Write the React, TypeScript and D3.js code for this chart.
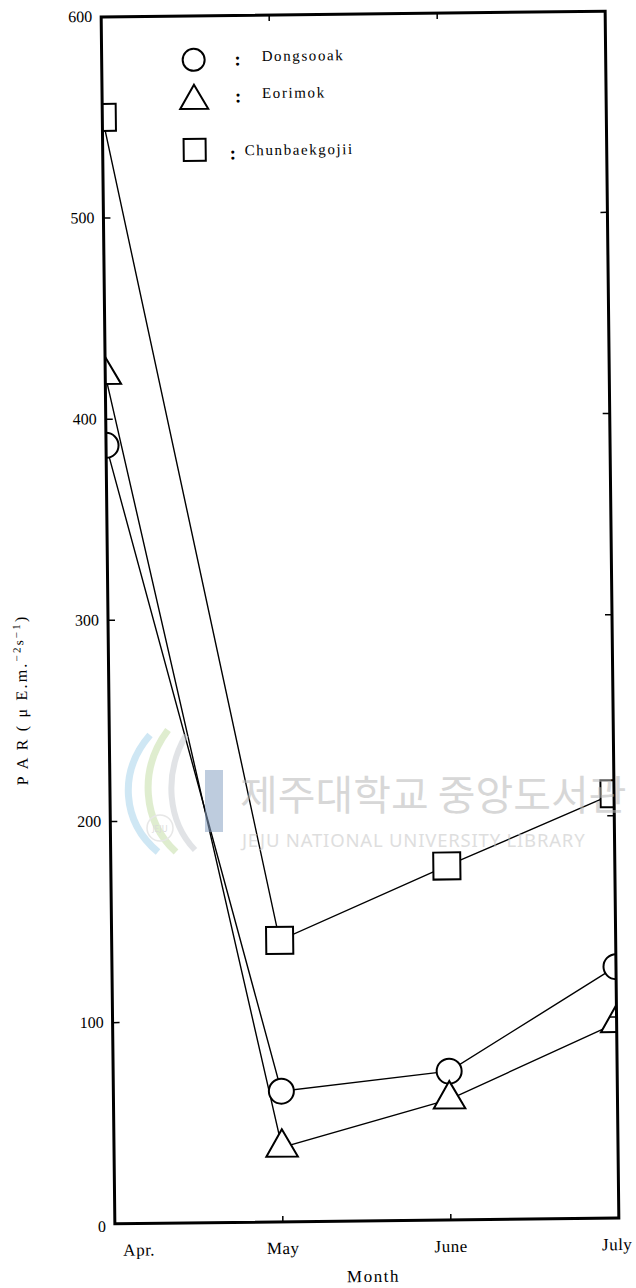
import React from "react";
import * as d3 from "d3";

const months = ["Apr.", "May", "June", "July"];
const dongsooak = [387, 65, 74, 125];
const eorimok = [422, 37, 60, 97];
const chunbaekgojii = [550, 140, 176, 211];
const yTicks = [0, 100, 200, 300, 400, 500, 600];
const innerYTicks = [100, 200, 300, 400, 500];
const innerXTicks = ["May", "June"];

const seriesNames = ["Dongsooak", "Eorimok", "Chunbaekgojii"];

const W = 636;
const H = 1288;
const L = 108;
const R = 612;
const T = 14;
const B = 1221;
const FONT = "'Liberation Serif', 'DejaVu Serif', serif";

export default function App() {
  const x = d3.scalePoint<string>().domain(months).range([L, R]);
  const y = d3.scaleLinear().domain([0, 600]).range([B, T]);

  const circle = d3.symbol().type(d3.symbolCircle).size(Math.PI * 12.5 * 12.5)();
  const tri = d3.symbol().type(d3.symbolTriangle).size(430)();
  const sq = d3.symbol().type(d3.symbolSquare).size(27 * 27)();
  const legCircle = d3.symbol().type(d3.symbolCircle).size(Math.PI * 11 * 11)();
  const legTri = d3.symbol().type(d3.symbolTriangle).size(340)();
  const legSq = d3.symbol().type(d3.symbolSquare).size(22 * 22)();

  const series = [
    { name: seriesNames[0], values: dongsooak, shape: circle, leg: legCircle },
    { name: seriesNames[1], values: eorimok, shape: tri, leg: legTri },
    { name: seriesNames[2], values: chunbaekgojii, shape: sq, leg: legSq },
  ];

  const line = d3
    .line<number>()
    .x((_, i) => x(months[i]) as number)
    .y((d) => y(d));

  const legendY = [58, 99, 148];
  const legendTextY = [60, 97, 154];
  const colonX = [244, 244, 238];
  const textX = [268, 268, 250];

  return (
    <svg
      width={W}
      height={H}
      style={{ position: "absolute", left: 0, top: 0, background: "#fff" }}
    >
      <defs>
        <clipPath id="plotclip">
          <rect x={L} y={T} width={R - L} height={B - T} />
        </clipPath>
      </defs>
      <g transform={`rotate(-0.65, 360, 617)`}>
        {/* series lines */}
        {series.map((s) => (
          <path
            key={s.name + "l"}
            d={line(s.values) || ""}
            fill="none"
            stroke="#000"
            strokeWidth={1.4}
          />
        ))}
        {/* markers */}
        <g clipPath="url(#plotclip)">
          {series.map((s) =>
            s.values.map((v, i) => (
              <path
                key={s.name + i}
                d={s.shape || ""}
                transform={`translate(${x(months[i])},${y(v)})`}
                fill="#fff"
                stroke="#000"
                strokeWidth={2}
              />
            ))
          )}
        </g>
        {/* frame */}
        <rect
          x={L}
          y={T}
          width={R - L}
          height={B - T}
          fill="none"
          stroke="#000"
          strokeWidth={3}
        />
        {/* y ticks inward on both sides */}
        {innerYTicks.map((t) => (
          <g key={"yt" + t}>
            <line x1={L} x2={L + 7} y1={y(t)} y2={y(t)} stroke="#000" strokeWidth={1.5} />
            <line x1={R} x2={R - 7} y1={y(t)} y2={y(t)} stroke="#000" strokeWidth={1.5} />
          </g>
        ))}
        {innerXTicks.map((m) => (
          <g key={"xt" + m}>
            <line x1={x(m)} x2={x(m)} y1={T} y2={T + 6} stroke="#000" strokeWidth={1.5} />
            <line x1={x(m)} x2={x(m)} y1={B} y2={B - 6} stroke="#000" strokeWidth={1.5} />
          </g>
        ))}
        {/* y tick labels */}
        {yTicks.map((t) => (
          <text
            key={"yl" + t}
            x={L - 9}
            y={y(t) + (t === 0 ? 8 : 5)}
            textAnchor="end"
            fontFamily={FONT}
            fontSize={16}
            fill="#000"
          >
            {t}
          </text>
        ))}
        {/* x tick labels */}
        {months.map((m, i) => (
          <text
            key={"xl" + m}
            x={(x(m) as number) + (i === 0 ? 24 : i === 3 ? -2 : 0)}
            y={B + 32}
            textAnchor="middle"
            fontFamily={FONT}
            fontSize={17}
            letterSpacing={0.5}
            fill="#000"
          >
            {m}
          </text>
        ))}
        <text
          x={(L + R) / 2 + 6}
          y={B + 61}
          textAnchor="middle"
          fontFamily={FONT}
          fontSize={17}
          letterSpacing={1.5}
          fill="#000"
        >
          Month
        </text>
        {/* y title */}
        <text
          transform={`translate(26, 696) rotate(-90)`}
          textAnchor="middle"
          fontFamily={FONT}
          fontSize={16}
          letterSpacing={2.2}
          fill="#000"
        >
          <tspan>P A R ( μ E.m.</tspan>
          <tspan fontSize={11} dy={-6}>−2</tspan>
          <tspan fontSize={13} dy={3}>s</tspan>
          <tspan fontSize={11} dy={-3}>−1</tspan>
          <tspan dy={6}>)</tspan>
        </text>
        {/* legend */}
        {series.map((s, i) => (
          <g key={"lg" + s.name}>
            <path
              d={s.leg || ""}
              transform={`translate(200,${legendY[i]})`}
              fill="#fff"
              stroke="#000"
              strokeWidth={2}
            />
            <text
              x={colonX[i]}
              y={legendTextY[i] + 4}
              textAnchor="middle"
              fontFamily={FONT}
              fontSize={19}
              fontWeight="bold"
              fill="#000"
            >
              :
            </text>
            <text
              x={textX[i]}
              y={legendTextY[i]}
              fontFamily={FONT}
              fontSize={15}
              letterSpacing={1.6}
              fill="#000"
            >
              {s.name}
            </text>
          </g>
        ))}
      </g>
      {/* library watermark */}
      <g opacity={0.55}>
        <path
          d="M150,735 C118,772 122,822 158,852"
          fill="none"
          stroke="#a8d4ec"
          strokeWidth={7}
        />
        <path
          d="M168,730 C138,770 143,822 176,852"
          fill="none"
          stroke="#c6dfa8"
          strokeWidth={7}
        />
        <path
          d="M186,735 C163,775 168,822 195,850"
          fill="none"
          stroke="#c9cdd3"
          strokeWidth={6}
        />
        <circle cx={160} cy={828} r={13} fill="none" stroke="#d4d4d4" strokeWidth={1.5} />
        <text x={160} y={832} textAnchor="middle" fontSize={8} fill="#bbb" fontFamily="'Noto Sans', sans-serif">
          JEJU
        </text>
        <rect x={205} y={770} width={18} height={62} fill="#8aa3c4" />
        <text
          x={240}
          y={810}
          fontFamily="'Noto Sans CJK KR', sans-serif"
          fontSize={41}
          fill="#b8b8b8"
        >
          제주대학교 중앙도서관
        </text>
        <text
          x={242}
          y={847}
          fontFamily="'Noto Sans', sans-serif"
          fontSize={18.5}
          letterSpacing={0.8}
          fill="#c4c4c4"
        >
          JEJU NATIONAL UNIVERSITY LIBRARY
        </text>
      </g>
    </svg>
  );
}
